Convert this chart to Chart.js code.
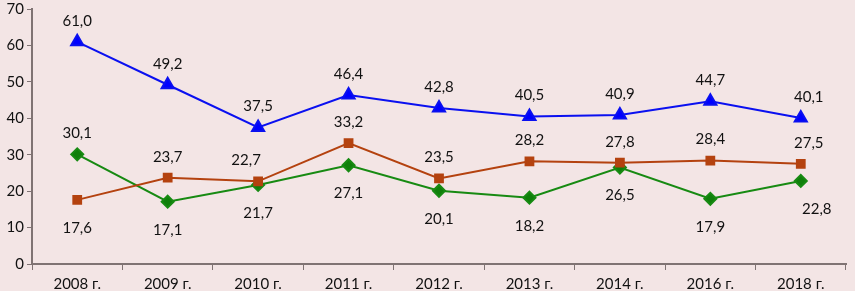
<!DOCTYPE html>
<html>
<head>
<meta charset="utf-8">
<script src="https://cdn.jsdelivr.net/npm/chart.js@4"></script>
<style>
  html, body { margin: 0; padding: 0; background: #f3e5e5; }
  #wrap { width: 855px; height: 291px; }
</style>
</head>
<body>
<div id="wrap"><canvas id="chart"></canvas></div>
<script>
const years = ['2008 г.', '2009 г.', '2010 г.', '2011 г.', '2012 г.', '2013 г.', '2014 г.', '2016 г.', '2018 г.'];
const blueValues = [61.0, 49.2, 37.5, 46.4, 42.8, 40.5, 40.9, 44.7, 40.1];
const brownValues = [17.6, 23.7, 22.7, 33.2, 23.5, 28.2, 27.8, 28.4, 27.5];
const greenValues = [30.1, 17.1, 21.7, 27.1, 20.1, 18.2, 26.5, 17.9, 22.8];
const yTicks = [0, 10, 20, 30, 40, 50, 60, 70];

// where each value label sits relative to its point
const labelSide = {
  blue:  ['up', 'up', 'up', 'up', 'up', 'up', 'up', 'up', 'up'],
  brown: ['down', 'up', 'up', 'up', 'up', 'up', 'up', 'up', 'up'],
  green: ['up', 'down', 'down', 'down', 'down', 'down', 'down', 'down', 'down']
};
const labelShiftX = {
  blue:  [0, 0, 0, 0, 0, 0, 0, 0, 8],
  brown: [0, 0, -12, 0, 0, 0, 0, 0, 8],
  green: [0, 0, 0, 0, 0, 0, 0, 0, 16]
};

const fontFamily = 'Lato, "Open Sans", sans-serif';
const fmt = v => v.toFixed(1).replace('.', ',');

const valueLabels = {
  id: 'valueLabels',
  afterDatasetsDraw(chart) {
    const ctx = chart.ctx;
    ctx.save();
    ctx.font = '15px ' + fontFamily;
    ctx.fillStyle = '#111';
    ctx.textAlign = 'center';
    ctx.textBaseline = 'middle';
    chart.data.datasets.forEach((ds, i) => {
      const meta = chart.getDatasetMeta(i);
      meta.data.forEach((pt, j) => {
        const side = labelSide[ds.key][j];
        const dy = side === 'up' ? -21 : 28;
        ctx.fillText(fmt(ds.data[j]), pt.x + labelShiftX[ds.key][j], pt.y + dy);
      });
    });
    ctx.restore();
  }
};

new Chart(document.getElementById('chart'), {
  type: 'line',
  data: {
    labels: years,
    datasets: [
      {
        key: 'brown',
        data: brownValues,
        borderColor: '#b4420f',
        backgroundColor: '#b4420f',
        borderWidth: 2,
        pointStyle: 'rect',
        pointRadius: 5.5,
        tension: 0
      },
      {
        key: 'green',
        data: greenValues,
        borderColor: '#178a12',
        backgroundColor: '#0f7f0a',
        borderWidth: 2,
        pointStyle: 'rectRot',
        pointRadius: 6,
        tension: 0
      },
      {
        key: 'blue',
        data: blueValues,
        borderColor: '#0a10f0',
        backgroundColor: '#0000ff',
        borderWidth: 2,
        pointStyle: 'triangle',
        pointRadius: 7,
        tension: 0
      }
    ]
  },
  options: {
    responsive: true,
    maintainAspectRatio: false,
    animation: false,
    layout: { padding: { top: 4, right: 2, left: 0, bottom: 0 } },
    plugins: {
      legend: { display: false },
      tooltip: { enabled: false }
    },
    scales: {
      x: {
        offset: true,
        grid: {
          display: true,
          drawOnChartArea: false,
          offset: true,
          drawTicks: true,
          tickLength: 6,
          color: '#7f7373'
        },
        border: { color: '#7f7373', width: 2 },
        ticks: {
          color: '#111',
          font: { family: fontFamily, size: 15 },
          maxRotation: 0,
          padding: 5
        },
        afterFit(scale) { scale.height = 27; }
      },
      y: {
        min: 0,
        max: 70,
        afterBuildTicks(scale) { scale.ticks = yTicks.map(v => ({ value: v })); },
        grid: {
          display: true,
          drawOnChartArea: false,
          drawTicks: true,
          tickLength: 5,
          color: '#7f7373'
        },
        border: { color: '#7f7373', width: 2 },
        ticks: {
          color: '#111',
          font: { family: fontFamily, size: 15 },
          padding: 3
        },
        afterFit(scale) {
          scale.width = 32;
          scale.paddingTop = 0;
          scale.paddingBottom = 0;
        }
      }
    }
  },
  plugins: [valueLabels]
});
</script>
</body>
</html>
